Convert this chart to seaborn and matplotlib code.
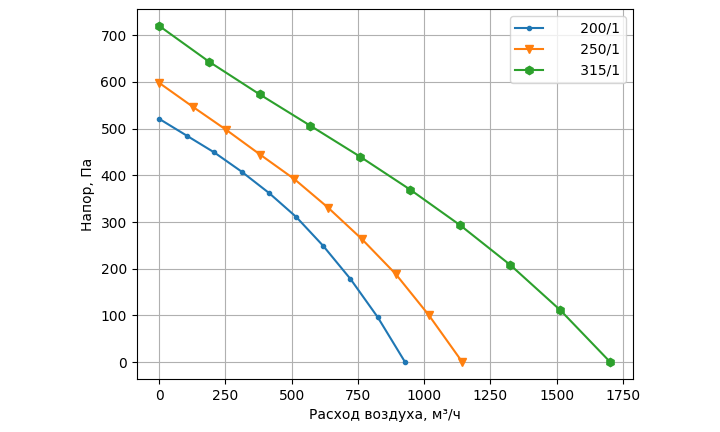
import pandas as pd
import matplotlib
matplotlib.use("Agg")
import matplotlib.pyplot as plt
import seaborn as sns

# Fan curves: air flow (m3/h) vs pressure (Pa)
flow_200 = [0, 104, 208, 311, 415, 517, 619, 722, 825, 928]
pres_200 = [521, 485, 449, 408, 362, 311, 249, 178, 96, 0]

flow_250 = [0, 129, 254, 382, 510, 637, 764, 892, 1017, 1144]
pres_250 = [598, 546, 497, 444, 392, 331, 264, 189, 101, 0]

flow_315 = [0, 189, 380, 571, 758, 948, 1136, 1325, 1514, 1702]
pres_315 = [720, 643, 573, 506, 440, 369, 293, 208, 111, 0]

labels = ["      200/1", "      250/1", "      315/1"]
markers = [".", "v", "h"]
colors = sns.color_palette("tab10", 3)

series = [(flow_200, pres_200), (flow_250, pres_250), (flow_315, pres_315)]

fig = plt.figure(figsize=(7.2, 4.32), dpi=100)
ax = fig.add_axes([0.1896, 0.1227, 0.6894, 0.8565])

for (x, y), lab, m, c in zip(series, labels, markers, colors):
    df = pd.DataFrame({"x": x, "y": y})
    sns.lineplot(data=df, x="x", y="y", ax=ax, label=lab, marker=m, color=c,
                 markeredgecolor=c, markeredgewidth=1, linewidth=1.5)

ax.set_xlabel("Расход воздуха, м³/ч")
ax.set_ylabel("Напор, Па")
ax.set_xticks([0, 250, 500, 750, 1000, 1250, 1500, 1750])
ax.set_yticks([0, 100, 200, 300, 400, 500, 600, 700])
ax.grid(True)
ax.legend(loc="upper right")

fig.savefig("out.png", dpi=100)
